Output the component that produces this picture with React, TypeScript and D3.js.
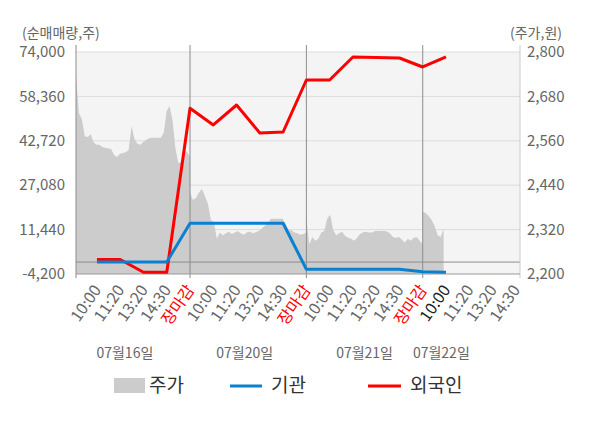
import React from "react";
import * as d3 from "d3";

// 일자 / 시간 구분
const days = ["07월16일", "07월20일", "07월21일", "07월22일"];
const times = ["10:00", "11:20", "13:20", "14:30", "장마감"];

// 순매매량 (좌축)
const foreignValues = [900, 900, -3600, -3600, 54170, 48290, 55330, 45470, 45820, 64140, 64140, 72240, 72060, 71890, 68720, 72240];
const institutionValues = [0, 0, 0, 0, 13660, 13660, 13660, 13660, 13660, -2550, -2550, -2550, -2550, -2550, -3400, -3600];

// 주가 (우축), 일자별 분 단위 흐름
const day1Price = [2735, 2635, 2619, 2572, 2570, 2578, 2556, 2549, 2549, 2543, 2541, 2540, 2538, 2522, 2516, 2524, 2527, 2529, 2535, 2600, 2565, 2552, 2549, 2557, 2562, 2567, 2568, 2568, 2568, 2568, 2581, 2640, 2654, 2616, 2540, 2500, 2503, 2535, 2530, 2516];
const day2Price = [2420, 2400, 2406, 2420, 2430, 2411, 2390, 2346, 2340, 2295, 2312, 2305, 2310, 2314, 2308, 2312, 2316, 2310, 2306, 2312, 2315, 2310, 2313, 2316, 2322, 2330, 2335, 2349, 2349, 2349, 2349, 2349, 2335, 2320, 2318, 2312, 2310, 2306, 2308, 2312];
const day3Price = [2351, 2280, 2300, 2290, 2295, 2312, 2316, 2350, 2360, 2318, 2305, 2310, 2314, 2303, 2298, 2295, 2290, 2298, 2308, 2313, 2314, 2312, 2312, 2316, 2317, 2316, 2317, 2315, 2310, 2300, 2297, 2300, 2293, 2285, 2295, 2290, 2298, 2300, 2290, 2280];
const day4Price = [2368, 2365, 2357, 2346, 2330, 2305, 2300, 2322];
const pricesByDay = [day1Price, day2Price, day3Price, day4Price];

const leftTicks = [74000, 58360, 42720, 27080, 11440, -4200];
const rightTicks = [2800, 2680, 2560, 2440, 2320, 2200];

const PER_DAY = 40;
const font = "'Noto Sans CJK KR', 'Noto Sans', sans-serif";

export default function App() {
  const left = 76, right = 520, top = 52, bottom = 274;

  // 한 칸 = 시간 구분 하나, 하루 = 5칸 (장마감에서 일자 구분)
  const x = d3.scaleLinear().domain([-0.9, 18.18]).range([left, right]);
  const yL = d3.scaleLinear().domain([-4200, 74000]).range([bottom, top]);
  const yR = d3.scaleLinear().domain([2200, 2800]).range([bottom, top]);

  const labels: { text: string; slot: number; d: number; t: number }[] = [];
  days.forEach((_, d) => {
    times.forEach((t, i) => {
      if (d === days.length - 1 && i === times.length - 1) return;
      labels.push({ text: t, slot: d * 5 + i, d, t: i });
    });
  });

  // 하루 구간: 직전 장마감 ~ 당일 장마감
  const dayStart = [-0.9, 4, 9, 14];
  const pricePts: [number, number][] = [];
  pricesByDay.forEach((arr, d) => {
    const s = dayStart[d];
    const span = d * 5 + 4 - s;
    arr.forEach((v, i) => pricePts.push([x(s + (span * i) / (PER_DAY - 1)), yR(v)]));
  });

  const area = d3.area<[number, number]>().x(d => d[0]).y0(bottom).y1(d => d[1]);
  const line = d3.line<number>().x((_, i) => x(i)).y(d => yL(d));

  const dateSlots = [1.2, 6.35, 11.5, 14.8];

  return (
    <svg width={600} height={428} style={{ position: "absolute", left: 0, top: 0, fontFamily: font }}>
      <defs>
        <clipPath id="plot"><rect x={left} y={top} width={right - left} height={bottom - top} /></clipPath>
      </defs>
      <rect x={left} y={top} width={right - left} height={bottom - top} fill="#f4f4f4" />
      {leftTicks.slice(0, -1).map(v => (
        <line key={v} x1={left} x2={right} y1={yL(v)} y2={yL(v)} stroke="#dcdcdc" strokeWidth={1} />
      ))}
      <path d={area(pricePts) || ""} fill="#cccccc" clipPath="url(#plot)" />
      <line x1={left} x2={right} y1={yL(0)} y2={yL(0)} stroke="#8c8c8c" strokeWidth={1} />
      {[4, 9, 14].map(s => (
        <line key={s} x1={x(s)} x2={x(s)} y1={45} y2={278} stroke="#8c8c8c" strokeWidth={1} />
      ))}
      <line x1={left} x2={left} y1={45} y2={278} stroke="#8c8c8c" strokeWidth={1} />
      <line x1={right} x2={right} y1={45} y2={278} stroke="#cccccc" strokeWidth={1} />
      <line x1={left} x2={right} y1={bottom} y2={bottom} stroke="#999" strokeWidth={1} />

      <path d={line(foreignValues) || ""} fill="none" stroke="#ff0000" strokeWidth={3} strokeLinejoin="round" />
      <path d={line(institutionValues) || ""} fill="none" stroke="#0a80cf" strokeWidth={3} strokeLinejoin="round" />

      <text x={22} y={38} fontSize={14} fill="#666">(순매매량,주)</text>
      <text x={510} y={38} fontSize={14} fill="#666">(주가,원)</text>
      {leftTicks.map(v => (
        <text key={v} x={65} y={yL(v)} dy="0.35em" textAnchor="end" fontSize={15} fill="#666">{d3.format(",")(v).replace("−", "-")}</text>
      ))}
      {rightTicks.map(v => (
        <text key={v} x={527} y={yR(v)} dy="0.35em" fontSize={15} fill="#666">{d3.format(",")(v)}</text>
      ))}
      {labels.map((l, i) => {
        const lx = x(l.slot) + 5, ly = 290;
        const color = l.t === 4 ? "#ff0000" : l.d === 3 && l.t === 0 ? "#222" : "#666";
        return (
          <text key={i} x={lx} y={ly} textAnchor="end" fontSize={16} fill={color} transform={`rotate(-55 ${lx} ${ly})`}>{l.text}</text>
        );
      })}
      {days.map((d, i) => (
        <text key={d} x={x(dateSlots[i])} y={358} textAnchor="middle" fontSize={14} fill="#666">{d}</text>
      ))}

      <rect x={114} y={378} width={31} height={15} fill="#cccccc" />
      <text x={149} y={392} fontSize={19} fill="#333">주가</text>
      <line x1={230} x2={262} y1={386} y2={386} stroke="#0a80cf" strokeWidth={3} />
      <text x={271} y={392} fontSize={19} fill="#333">기관</text>
      <line x1={368} x2={401} y1={386} y2={386} stroke="#ff0000" strokeWidth={3} />
      <text x={410} y={392} fontSize={19} fill="#333">외국인</text>
    </svg>
  );
}
